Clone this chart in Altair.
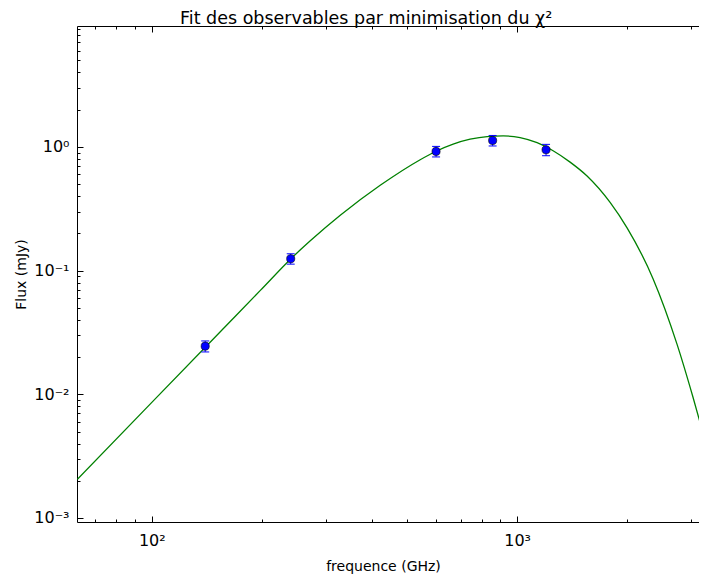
import altair as alt
import pandas as pd

# ---- data ----
curve_freq = [62.55, 100, 153.97, 198.2, 240.4, 271.5, 328.0, 421.9, 542.8, 600.2, 668.2,
              743.6, 827.9, 915.6, 1019.0, 1134.0, 1254.6, 1396.4, 1554.1, 1797.0,
              1999.9, 2355.4, 2740.9, 3030.3, 3310.8]
curve_flux = [0.002051, 0.00860, 0.03206, 0.06918, 0.1248, 0.1741, 0.2800, 0.4893, 0.7880,
              0.9231, 1.0535, 1.1540, 1.2136, 1.2272, 1.1890, 1.0814, 0.9317, 0.7535,
              0.5818, 0.3558, 0.2214, 0.0861, 0.02532, 0.009474, 0.003721]

obs_freq = [140, 240, 600, 857, 1200]
obs_flux = [0.0245, 0.1248, 0.920, 1.128, 0.949]
obs_err = [0.0025, 0.012, 0.09, 0.11, 0.10]

x_major = [100, 1000]
x_major_labels = ["10²", "10³"]
x_minor = [70, 80, 90, 200, 300, 400, 500, 600, 700, 800, 900, 2000, 3000]
y_major = [0.001, 0.01, 0.1, 1]
y_major_labels = ["10⁻³", "10⁻²", "10⁻¹", "10⁰"]
y_minor = [0.002, 0.003, 0.004, 0.005, 0.006, 0.007, 0.008, 0.009,
           0.02, 0.03, 0.04, 0.05, 0.06, 0.07, 0.08, 0.09,
           0.2, 0.3, 0.4, 0.5, 0.6, 0.7, 0.8, 0.9,
           2, 3, 4, 5, 6, 7, 8, 9]

x_domain = [62.4, 3147]
y_domain = [0.000928, 9.5]

W, H = 622, 496

curve = pd.DataFrame({"freq": curve_freq, "flux": curve_flux})
obs = pd.DataFrame({"freq": obs_freq, "flux": obs_flux, "err": obs_err})
obs["lo"] = obs["flux"] - obs["err"]
obs["hi"] = obs["flux"] + obs["err"]


def lab_expr(values, labels):
    e = "''"
    for v, l in zip(values, labels):
        e = f"(abs(datum.value - {v}) < {v}*1e-6) ? '{l}' : " + e
    return e


xs = alt.Scale(type="log", domain=x_domain, nice=False, zero=False)
ys = alt.Scale(type="log", domain=y_domain, nice=False, zero=False)

# axes
x_lab = alt.Axis(orient="bottom", values=x_major, ticks=False, domain=True,
                 labelExpr=lab_expr(x_major, x_major_labels), labelPadding=10,
                 title="frequence (GHz)", titlePadding=11, titleX=306, grid=False)
y_lab = alt.Axis(orient="left", values=y_major, ticks=False, domain=True,
                 labelExpr=lab_expr(y_major, y_major_labels), labelPadding=8,
                 title="Flux (mJy)", titlePadding=5, grid=False)
x_bot_major = alt.Axis(orient="top", offset=-H, values=x_major, tickSize=6, labels=False,
                       domain=False, title=None, grid=False)
x_bot_minor = alt.Axis(orient="top", offset=-H, values=x_minor, tickSize=3, labels=False,
                       domain=False, title=None, grid=False)
x_top_major = alt.Axis(orient="bottom", offset=-H, values=x_major, tickSize=6, labels=False,
                       domain=True, title=None, grid=False)
x_top_minor = alt.Axis(orient="bottom", offset=-H, values=x_minor, tickSize=3, labels=False,
                       domain=False, title=None, grid=False)
y_left_major = alt.Axis(orient="right", offset=-W, values=y_major, tickSize=6, labels=False,
                        domain=False, title=None, grid=False)
y_left_minor = alt.Axis(orient="right", offset=-W, values=y_minor, tickSize=3, labels=False,
                        domain=False, title=None, grid=False)

line = alt.Chart(curve).mark_line(color="#008000", strokeWidth=1.3, clip=True,
                                  interpolate="monotone").encode(
    x=alt.X("freq:Q", scale=xs, axis=x_lab),
    y=alt.Y("flux:Q", scale=ys, axis=y_lab),
    order="freq:Q",
)

bars = alt.Chart(obs).mark_rule(color="#0000ff", strokeWidth=1, opacity=1).encode(
    x=alt.X("freq:Q", scale=xs, axis=x_bot_major),
    y=alt.Y("lo:Q", scale=ys, axis=y_left_major),
    y2="hi:Q",
)

caps_lo = alt.Chart(obs).mark_tick(color="#0000ff", size=8, thickness=1, opacity=1,
                                   orient="horizontal").encode(
    x=alt.X("freq:Q", scale=xs, axis=x_bot_minor),
    y=alt.Y("lo:Q", scale=ys, axis=y_left_minor),
)

caps_hi = alt.Chart(obs).mark_tick(color="#0000ff", size=8, thickness=1, opacity=1,
                                   orient="horizontal").encode(
    x=alt.X("freq:Q", scale=xs, axis=x_top_major),
    y=alt.Y("hi:Q", scale=ys, axis=None),
)

points = alt.Chart(obs).mark_point(filled=True, shape="circle", size=66, color="#0000ff",
                                   stroke="#000000", strokeWidth=0.6, opacity=1).encode(
    x=alt.X("freq:Q", scale=xs, axis=x_top_minor),
    y=alt.Y("flux:Q", scale=ys, axis=None),
)

chart = alt.layer(line, bars, caps_lo, caps_hi, points).resolve_axis(
    x="independent", y="independent"
).properties(
    width=W, height=H,
    autosize=alt.AutoSizeParams(type="none"),
    padding={"left": 69, "top": 18, "right": 0, "bottom": 56},
    title=alt.TitleParams("Fit des observables par minimisation du χ²", font="DejaVu Sans",
                          fontSize=17.5, fontWeight="normal", color="black", offset=-2,
                          anchor="start", frame="group", dx=103),
).configure_view(strokeWidth=0).configure_axis(
    labelFont="DejaVu Sans", titleFont="DejaVu Sans", labelFontSize=16, titleFontSize=14,
    labelColor="black", titleColor="black", titleFontWeight="normal",
    tickColor="black", domainColor="black", domainWidth=1, tickWidth=1,
)

chart.save("out.html", embed_options={"renderer": "svg", "actions": False})
